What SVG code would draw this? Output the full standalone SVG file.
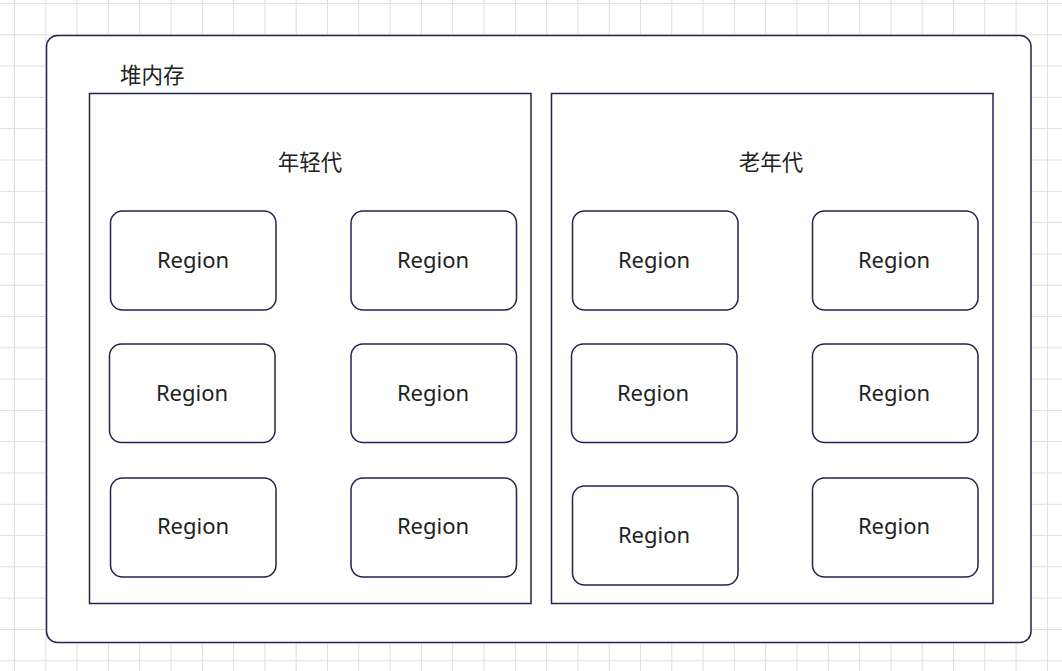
<svg xmlns="http://www.w3.org/2000/svg" width="1062" height="671" viewBox="0 0 1062 671">
<defs>
<pattern id="grid" x="14" y="3" width="31.3" height="31.3" patternUnits="userSpaceOnUse">
<path d="M0 0V31.3M0 0H31.3" fill="none" stroke="#dedede" stroke-width="2"/>
</pattern>
<style>
.box{fill:#fff;stroke:#1f2550;stroke-width:1.5}
.lbl{font-family:"Noto Sans","Open Sans","Noto Sans CJK SC",sans-serif;font-size:22px;fill:#222}
.cjk{font-family:"Noto Sans CJK SC","Noto Sans",sans-serif;font-size:21.5px;fill:#222}
</style>
</defs>
<rect width="1062" height="671" fill="#fff"/>
<rect width="1062" height="671" fill="url(#grid)"/>
<g id="heap">
<rect class="box" x="46.5" y="35.5" width="984.5" height="607" rx="11"/>
<text class="cjk" x="120" y="83">堆内存</text>
</g>
<g id="young">
<rect class="box" x="89.5" y="93.5" width="441.5" height="510"/>
<text class="cjk" x="310" y="170" text-anchor="middle">年轻代</text>
</g>
<g id="old">
<rect class="box" x="551.5" y="93.5" width="441.5" height="510"/>
<text class="cjk" x="771" y="170" text-anchor="middle">老年代</text>
</g>
<g id="y1"><rect class="box" x="110.5" y="211" width="165.5" height="99" rx="12"/><text class="lbl" x="193" y="268" text-anchor="middle">Region</text></g>
<g id="y2"><rect class="box" x="351" y="211" width="165.5" height="99" rx="12"/><text class="lbl" x="433" y="268" text-anchor="middle">Region</text></g>
<g id="y3"><rect class="box" x="109.5" y="344" width="165.5" height="98.5" rx="12"/><text class="lbl" x="192" y="401" text-anchor="middle">Region</text></g>
<g id="y4"><rect class="box" x="351" y="344" width="165.5" height="98.5" rx="12"/><text class="lbl" x="433" y="401" text-anchor="middle">Region</text></g>
<g id="y5"><rect class="box" x="110.5" y="478" width="165.5" height="99" rx="12"/><text class="lbl" x="193" y="534" text-anchor="middle">Region</text></g>
<g id="y6"><rect class="box" x="351" y="478" width="165.5" height="99" rx="12"/><text class="lbl" x="433" y="534" text-anchor="middle">Region</text></g>
<g id="o1"><rect class="box" x="572.5" y="211" width="165.5" height="99" rx="12"/><text class="lbl" x="654" y="268" text-anchor="middle">Region</text></g>
<g id="o2"><rect class="box" x="812.5" y="211" width="165.5" height="99" rx="12"/><text class="lbl" x="894" y="268" text-anchor="middle">Region</text></g>
<g id="o3"><rect class="box" x="571.5" y="344" width="165.5" height="98.5" rx="12"/><text class="lbl" x="653" y="401" text-anchor="middle">Region</text></g>
<g id="o4"><rect class="box" x="812.5" y="344" width="165.5" height="98.5" rx="12"/><text class="lbl" x="894" y="401" text-anchor="middle">Region</text></g>
<g id="o5"><rect class="box" x="572.5" y="486" width="165.5" height="99" rx="12"/><text class="lbl" x="654" y="543" text-anchor="middle">Region</text></g>
<g id="o6"><rect class="box" x="812.5" y="478" width="165.5" height="99" rx="12"/><text class="lbl" x="894" y="534" text-anchor="middle">Region</text></g>
<g id="connectors"/>
</svg>
